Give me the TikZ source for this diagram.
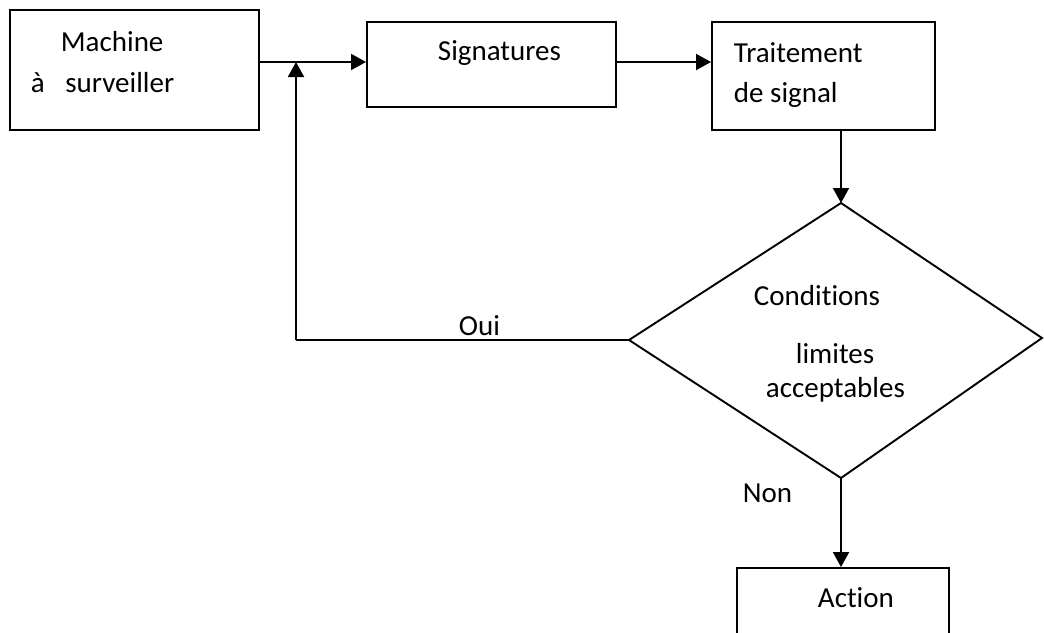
\documentclass[tikz,border=0pt]{standalone}
\usepackage{fontspec}
\setmainfont{Carlito}[Ligatures=NoCommon]
\usetikzlibrary{arrows.meta}
\tikzset{
	bloc/.style = {draw=black, rectangle, inner sep=0pt},% boite du schema
	txt/.style = {anchor=base west, inner sep=0pt},% texte place a la main
	dessin/.style = {draw=black, line join=miter}% contour du losange
}

\begin{document}
\begin{tikzpicture}[>={Triangle[length=15pt,width=16pt]}, x=1pt, y=-1pt,
		line width=1.9pt, font=\fontsize{29}{36}\selectfont]
		\useasboundingbox (0,0) rectangle (1044,632);
		% boites
		\node [bloc, minimum width=249pt, minimum height=120pt] (machine) at (134.5,70) {};
		\node [bloc, minimum width=249pt, minimum height=85pt] (sig) at (491.5,64.5) {};
		\node [bloc, minimum width=223pt, minimum height=108pt] (trait) at (823.5,76) {};
		\node [bloc, minimum width=212pt, minimum height=100pt] (action) at (843,618) {};
		% losange
		\coordinate (condT) at (841,203);
		\coordinate (condL) at (629,340);
		\coordinate (condR) at (1042,338);
		\coordinate (condB) at (841,478);
		\draw [dessin] (condT) -- (condR) -- (condB) -- (condL) -- cycle;
		% points de la boucle
		\coordinate (join) at (296,62);
		\coordinate (ouiL) at (296,340);
		% textes
		\node [txt] (tMachine) at (60,51) {Machine};
		\node [txt] (tSurv) at (30,92) {à\hspace{14pt} surveiller};
		\node [txt] (tSig) at (437,60) {Signatures};
		\node [txt] (tTrait) at (733,62) {Traitement};
		\node [txt] (tSignal) at (733,102) {de signal};
		\node [txt] (tCond) at (753,305) {Conditions};
		\node [txt] (tLim) at (795,363) {limites};
		\node [txt] (tAcc) at (765,397) {acceptables};
		\node [txt] (tOui) at (458,335) {Oui};
		\node [txt] (tNon) at (742,502) {Non};
		\node [txt] (tAction) at (817,607) {Action};
		% liaisons
		\draw [->] (machine.east |- join) -- (sig.west |- join);
		\draw [->] (sig.east |- join) -- (trait.west |- join);
		\draw [->] (condT |- trait.south) -- (condT);
		\draw [->] (condB) -- (condB |- action.north);
		\draw (condL) -- (ouiL);
		\draw [->] (ouiL) -- (join);
\end{tikzpicture}
\end{document}
